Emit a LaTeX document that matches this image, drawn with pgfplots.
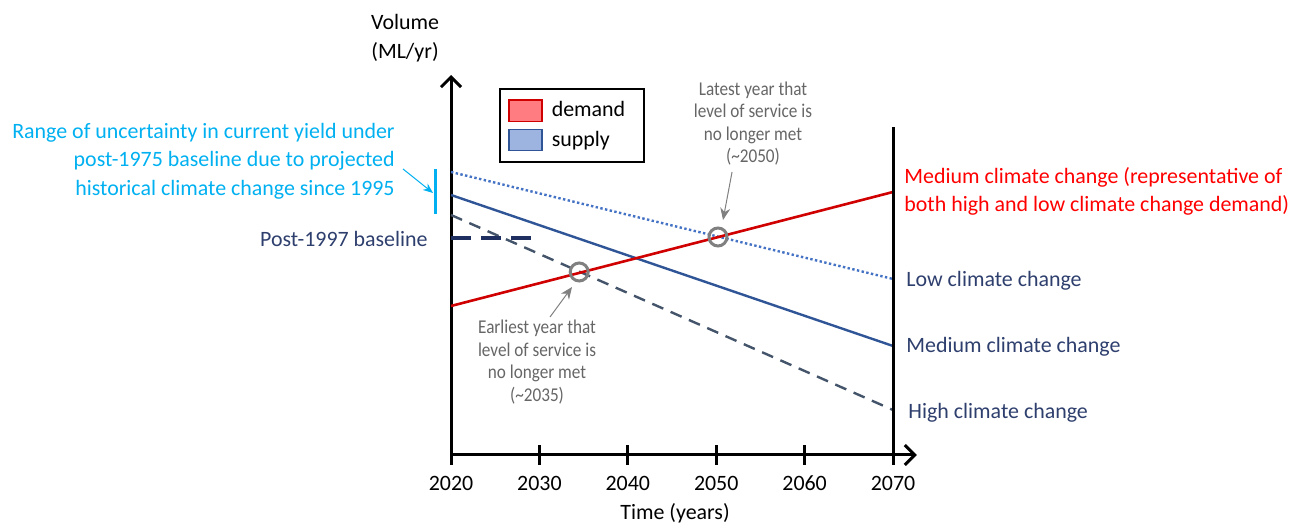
\documentclass[border=0pt]{standalone}
\usepackage{fontspec}
\setmainfont{Carlito}
\newfontfamily\condfont{Carlito}[FakeStretch=0.88]
\usepackage{pgfplots}
\pgfplotsset{compat=1.18}
\usetikzlibrary{arrows.meta}
\definecolor{dred}{HTML}{D00000}
\definecolor{tred}{HTML}{FF0000}
\definecolor{lred}{HTML}{FF7C80}
\definecolor{lowblue}{HTML}{4472C4}
\definecolor{medblue}{HTML}{2F5597}
\definecolor{lblue}{HTML}{9DB3E0}
\definecolor{highgray}{HTML}{44546A}
\definecolor{navy}{HTML}{1F2F5F}
\definecolor{labblue}{HTML}{2E3F6E}
\definecolor{cyanc}{HTML}{00B0F0}
\definecolor{circgray}{HTML}{808080}
\definecolor{anngray}{HTML}{666666}
\begin{document}
\begin{tikzpicture}
\begin{axis}[
  x=4.42bp, y=0.5bp,
  xmin=2020, xmax=2072.7, ymin=0, ymax=380,
  axis x line=bottom, axis y line=left,
  axis line style={line width=1.5bp, -{Straight Barb[length=5bp,width=10bp,line width=1.5bp]}},
  xtick={2020,2030,2040,2050,2060,2070}, ytick=\empty,
  tick align=center, major tick length=10bp,
  x tick style={line width=1.5bp, black},
  xticklabel style={font=\fontsize{11}{13}\selectfont, yshift=-2bp},
  /pgf/number format/assume math mode=true,
  /pgf/number format/1000 sep={},
  clip=false,
  legend style={at={(axis cs:2025.43,367)}, anchor=north west, draw=black, line width=0.8bp,
    font=\fontsize{11}{13}\selectfont, inner xsep=2bp, inner ysep=4.5bp, row sep=1.5bp},
  legend cell align=left,
]
\addlegendimage{legend image code/.code={\path[draw=none,fill=none] (0bp,0bp) -- (22bp,0bp); \draw[draw=dred,fill=lred,line width=0.8bp] (2.5bp,-5.3bp) rectangle (19bp,5.3bp);}}
\addlegendentry{demand\hspace*{5.5bp}}
\addlegendimage{legend image code/.code={\path[draw=none,fill=none] (0bp,0bp) -- (22bp,0bp); \draw[draw=medblue,fill=lblue,line width=0.8bp] (2.5bp,-5.3bp) rectangle (19bp,5.3bp);}}
\addlegendentry{supply}

\addplot[lowblue, line width=1.2bp, dash pattern=on 1.2bp off 1.2bp] coordinates {(2020,283) (2070,176)};
\addplot[medblue, line width=1.2bp] coordinates {(2020,260) (2070,109)};
\addplot[highgray, line width=1.2bp, dash pattern=on 6bp off 4bp] coordinates {(2020,240) (2070,45)};
\addplot[dred, line width=1.3bp] coordinates {(2020,149) (2070,263)};
\addplot[navy, line width=1.6bp, dash pattern=on 10bp off 5bp] coordinates {(2020,217) (2029.7,217)};
\addplot[black, line width=1.5bp] coordinates {(2070,0) (2070,328)};
\addplot[cyanc, line width=1.5bp] coordinates {(2018.3,241) (2018.3,286)};
\addplot[only marks, mark=o, mark size=4.5bp, mark options={draw=circgray, line width=1.5bp}] coordinates {(2034.5,183) (2050.2,218)};

% annotations
\node[align=center, font=\fontsize{11}{14.5}\selectfont] at (axis cs:2014.8,417) {Volume\\(ML/yr)};
\node[anchor=east, inner sep=0pt, align=right, text=cyanc, font=\fontsize{11}{14.25}\selectfont] at (axis cs:2013.67,294) {Range of uncertainty in current yield under\\post-1975 baseline due to projected\\historical climate change since 1995};
\draw[cyanc, line width=0.5bp, -{Stealth[length=5bp,width=4bp]}] (axis cs:2014.57,286) -- (axis cs:2017.96,262);
\node[anchor=east, inner sep=0pt, text=labblue, font=\fontsize{11}{13}\selectfont] at (axis cs:2017.4,216) {Post-1997 baseline};
\node[align=center, text=anngray, font=\condfont\fontsize{9.8}{11.25}\selectfont] at (axis cs:2054.16,331.5) {Latest year that\\level of service is\\no longer met\\(\textasciitilde2050)};
\draw[circgray, line width=0.5bp, -{Stealth[length=6bp,width=5bp]}] (axis cs:2051.79,283) -- (axis cs:2050.77,235);
\node[align=center, text=anngray, font=\condfont\fontsize{9.8}{11.25}\selectfont] at (axis cs:2029.73,93) {Earliest year that\\level of service is\\no longer met\\(\textasciitilde2035)};
\draw[circgray, line width=0.5bp, -{Stealth[length=6bp,width=5bp]}] (axis cs:2031.2,138) -- (axis cs:2033.69,168);
\node[anchor=west, inner sep=0pt, align=left, text=tred, font=\fontsize{11}{14}\selectfont] at (axis cs:2071.24,264) {Medium climate change (representative of\\both high and low climate change demand)};
\node[anchor=west, inner sep=0pt, text=labblue, font=\fontsize{11}{13}\selectfont] at (axis cs:2071.47,174) {Low climate change};
\node[anchor=west, inner sep=0pt, text=labblue, font=\fontsize{11}{13}\selectfont] at (axis cs:2071.47,108) {Medium climate change};
\node[anchor=west, inner sep=0pt, text=labblue, font=\fontsize{11}{13}\selectfont] at (axis cs:2071.7,42) {High climate change};
\node[font=\fontsize{11}{13}\selectfont] at (axis cs:2045.34,-58) {Time (years)};
\path (axis cs:1968.98,455) rectangle (axis cs:2116.49,-70);
\end{axis}
\end{tikzpicture}
\end{document}
